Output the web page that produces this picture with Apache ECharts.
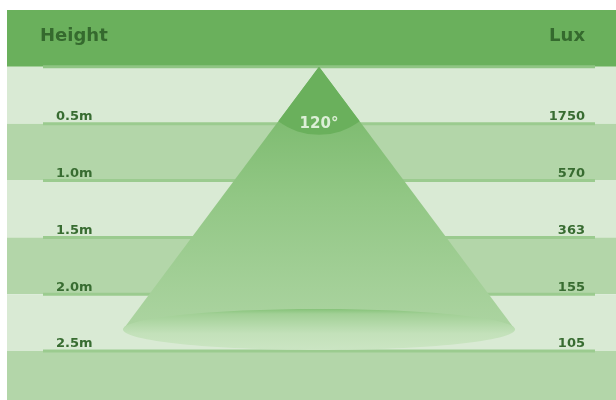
<!DOCTYPE html>
<html>
<head>
<meta charset="utf-8">
<script src="https://cdn.jsdelivr.net/npm/echarts@6/dist/echarts.min.js"></script>
<style>html,body{margin:0;padding:0;background:#fff}#c{width:616px;height:400px}</style>
</head>
<body>
<div id="c"></div>
<script>
// ---- data ----
const heightLabels = ['0.5m', '1.0m', '1.5m', '2.0m', '2.5m'];
const heightValues = [0.5, 1.0, 1.5, 2.0, 2.5];
const luxValues = [1750, 570, 363, 155, 105];
const beamAngle = 120;
const headerLeft = 'Height';
const headerRight = 'Lux';

// ---- layout / style constants ----
const Y_MIN = -0.5, Y_MAX = 2.93;
const X_MIN = -312, X_MAX = 297;
const LINE_HALF = 276;
const CONE_DEPTH = 2.31, CONE_HALF = 196, ELLIPSE_RY = 0.18;
const SECTOR_R = 68;
const C_HEADER = '#6ab05c', C_LIGHT = '#d9ead4', C_MID = '#b3d6a9';
const C_TEXT = '#386c31';

const chart = echarts.init(document.getElementById('c'), null, {renderer: 'canvas'});

// bands built from the height values
const bounds = [Y_MIN, 0].concat(heightValues, [Y_MAX]);
const bandData = [];
for (let i = 0; i < bounds.length - 1; i++) {
  bandData.push([bounds[i], bounds[i + 1], i === 0 ? 0 : (i % 2 === 1 ? 1 : 2)]);
}
const bandColors = [C_HEADER, C_LIGHT, C_MID];

const lineData = [0].concat(heightValues).map(v => [v]);
const rowData = heightValues.map((v, i) => [v, heightLabels[i], luxValues[i]]);

const option = {
  animation: false,
  backgroundColor: '#ffffff',
  grid: {left: 7, right: 0, top: 10, bottom: 0},
  xAxis: {type: 'value', min: X_MIN, max: X_MAX, show: false},
  yAxis: {type: 'value', inverse: true, min: Y_MIN, max: Y_MAX, show: false},
  series: [
    {
      type: 'custom', name: 'bands', data: bandData, z: 1,
      renderItem: function (params, api) {
        const cs = params.coordSys;
        const p0 = api.coord([X_MIN, api.value(0)]);
        const p1 = api.coord([X_MIN, api.value(1)]);
        return {type: 'rect', shape: {x: cs.x, y: p0[1], width: cs.width, height: p1[1] - p0[1]},
          style: {fill: bandColors[api.value(2)]}};
      }
    },
    {
      type: 'custom', name: 'lines', data: lineData, z: 2,
      renderItem: function (params, api) {
        const v = api.value(0);
        const a = api.coord([-LINE_HALF, v]);
        const b = api.coord([LINE_HALF, v]);
        return {type: 'line', shape: {x1: a[0], y1: a[1], x2: b[0], y2: b[1]},
          style: {stroke: v === 0 ? '#8fc483' : '#9bcb8f', lineWidth: 3}};
      }
    },
    {
      type: 'custom', name: 'cone', data: [[0, 0, CONE_DEPTH]], z: 3,
      renderItem: function (params, api) {
        const apex = api.coord([api.value(0), api.value(1)]);
        const left = api.coord([-CONE_HALF, api.value(2)]);
        const right = api.coord([CONE_HALF, api.value(2)]);
        const top = api.coord([0, CONE_DEPTH - ELLIPSE_RY]);
        const bot = api.coord([0, CONE_DEPTH + ELLIPSE_RY]);
        const ang = Math.atan2(right[1] - apex[1], right[0] - apex[0]);
        const ang2 = Math.atan2(left[1] - apex[1], left[0] - apex[0]);
        return {
          type: 'group',
          children: [
            {type: 'polygon', shape: {points: [apex, right, left]},
              style: {fill: new echarts.graphic.LinearGradient(0, 0, 0, 1, [
                {offset: 0, color: '#72b564'},
                {offset: 0.5, color: '#92c785'},
                {offset: 1, color: '#acd4a1'}
              ])}},
            {type: 'ellipse', shape: {cx: apex[0], cy: left[1], rx: (right[0] - left[0]) / 2, ry: (bot[1] - top[1]) / 2},
              style: {fill: new echarts.graphic.LinearGradient(0, 0, 0, 1, [
                {offset: 0, color: '#86c379'},
                {offset: 0.12, color: '#a2d096'},
                {offset: 0.6, color: '#c3e1ba'},
                {offset: 1, color: '#cbe5c3'}
              ])}},
            {type: 'sector', shape: {cx: apex[0], cy: apex[1], r0: 0, r: SECTOR_R, startAngle: ang, endAngle: ang2, clockwise: true},
              style: {fill: '#6ab05c'}},
            {type: 'text', x: apex[0], y: apex[1] + 57,
              style: {text: beamAngle + '°', fill: '#dcefd6', font: 'bold 15px "DejaVu Sans"', align: 'center', verticalAlign: 'middle'}}
          ]
        };
      }
    },
    {
      type: 'custom', name: 'labels', data: rowData, z: 5,
      renderItem: function (params, api) {
        const v = api.value(0);
        const l = api.coord([-263, v]);
        const r = api.coord([266, v]);
        return {
          type: 'group',
          children: [
            {type: 'text', x: l[0], y: l[1] - 7,
              style: {text: heightLabels[params.dataIndex], fill: C_TEXT, font: 'bold 13px "DejaVu Sans"', align: 'left', verticalAlign: 'middle'}},
            {type: 'text', x: r[0], y: r[1] - 7,
              style: {text: String(luxValues[params.dataIndex]), fill: C_TEXT, font: 'bold 13px "DejaVu Sans"', align: 'right', verticalAlign: 'middle'}}
          ]
        };
      }
    },
    {
      type: 'custom', name: 'header', data: [[Y_MIN / 2]], z: 5,
      renderItem: function (params, api) {
        const l = api.coord([-279, api.value(0)]);
        const r = api.coord([266, api.value(0)]);
        return {
          type: 'group',
          children: [
            {type: 'text', x: l[0], y: l[1] - 2,
              style: {text: headerLeft, fill: '#356a2e', font: 'bold 18px "DejaVu Sans"', align: 'left', verticalAlign: 'middle'}},
            {type: 'text', x: r[0], y: r[1] - 2,
              style: {text: headerRight, fill: '#356a2e', font: 'bold 18px "DejaVu Sans"', align: 'right', verticalAlign: 'middle'}}
          ]
        };
      }
    }
  ]
};
chart.setOption(option);
</script>
</body>
</html>
